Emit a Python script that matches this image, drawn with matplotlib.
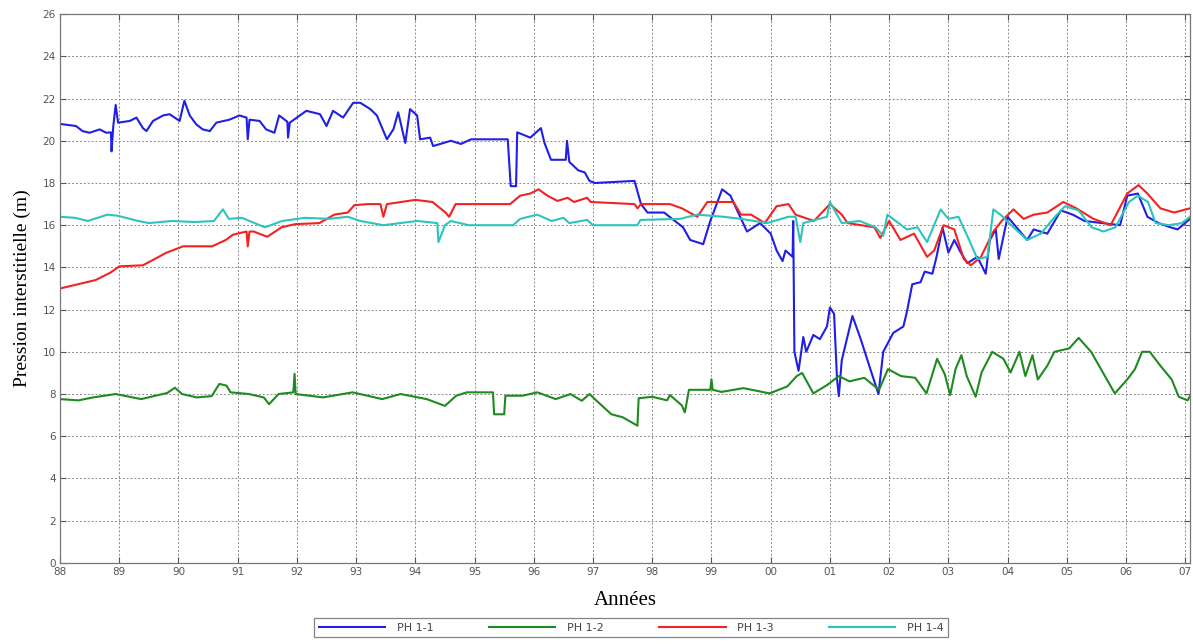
import matplotlib
matplotlib.use('Agg')
import matplotlib.pyplot as plt

# Piezometer readings, x in years since 1900 (88 = 1988, 107 = 2007)
ph11_t = [88.0, 88.27, 88.38, 88.5, 88.67, 88.78, 88.86, 88.87, 88.9, 88.94, 88.98, 89.18, 89.29, 89.4,
          89.46, 89.57, 89.74, 89.85, 90.02, 90.1, 90.19, 90.3, 90.41, 90.53, 90.64, 90.86, 91.03, 91.15,
          91.17, 91.2, 91.37, 91.48, 91.62, 91.7, 91.84, 91.85, 91.88, 92.05, 92.16, 92.39, 92.5, 92.61,
          92.78, 92.95, 93.07, 93.24, 93.35, 93.52, 93.63, 93.71, 93.83, 93.91, 94.03, 94.08, 94.25, 94.3,
          94.6, 94.77, 94.94, 95.56, 95.61, 95.7, 95.72, 95.94, 96.12, 96.18, 96.29, 96.54, 96.56, 96.6,
          96.75, 96.86, 96.94, 97.03, 97.7, 97.81, 97.92, 98.2, 98.52, 98.64, 98.86, 98.98, 99.18, 99.32,
          99.45, 99.6, 99.82, 100.0, 100.1, 100.2, 100.25, 100.37, 100.38, 100.4, 100.47, 100.55, 100.6,
          100.72, 100.83, 100.95, 101.0, 101.07, 101.12, 101.15, 101.2, 101.38, 101.52, 101.68, 101.82,
          101.9, 102.07, 102.24, 102.3, 102.39, 102.53, 102.6, 102.73, 102.8, 102.9, 103.0, 103.1, 103.2,
          103.32, 103.49, 103.63, 103.7, 103.8, 103.85, 104.0, 104.33, 104.44, 104.67, 104.9, 105.1, 105.3,
          105.9, 106.02, 106.2, 106.36, 106.55, 106.75, 106.87, 107.08]
ph11_v = [20.8, 20.7, 20.46, 20.38, 20.54, 20.38, 20.4, 19.5, 20.7, 21.7, 20.86, 20.94, 21.1, 20.6,
          20.46, 20.94, 21.2, 21.26, 20.94, 21.9, 21.2, 20.78, 20.54, 20.46, 20.86, 21.0, 21.2, 21.1,
          20.07, 21.0, 20.94, 20.54, 20.38, 21.2, 20.9, 20.15, 20.86, 21.2, 21.42, 21.26, 20.7, 21.42,
          21.1, 21.8, 21.8, 21.5, 21.2, 20.07, 20.55, 21.35, 19.9, 21.5, 21.2, 20.07, 20.15, 19.75,
          20.0, 19.85, 20.07, 20.07, 17.85, 17.85, 20.4, 20.15, 20.6, 19.9, 19.1, 19.1, 20.0, 19.0,
          18.6, 18.5, 18.1, 18.0, 18.1, 17.0, 16.6, 16.6, 15.9, 15.3, 15.1, 16.2, 17.7, 17.4,
          16.6, 15.7, 16.1, 15.6, 14.8, 14.3, 14.8, 14.5, 16.2, 10.0, 9.1, 10.7, 10.0,
          10.8, 10.6, 11.2, 12.1, 11.8, 8.7, 7.9, 9.6, 11.7, 10.6, 9.2, 8.0,
          10.0, 10.9, 11.2, 11.9, 13.2, 13.3, 13.8, 13.7, 14.5, 15.9, 14.7, 15.3, 14.75,
          14.2, 14.5, 13.7, 15.3, 15.8, 14.4, 16.4, 15.3, 15.8, 15.6, 16.7, 16.5, 16.2,
          16.0, 17.4, 17.5, 16.4, 16.1, 15.9, 15.8, 16.3]

ph12_t = [88.0, 88.31, 88.56, 88.94, 89.37, 89.81, 89.94, 90.06, 90.31, 90.56, 90.69, 90.81, 90.88,
          91.19, 91.44, 91.53, 91.69, 91.94, 91.96, 91.98, 92.44, 92.94, 93.44, 93.75, 94.19, 94.5,
          94.69, 94.87, 95.31, 95.33, 95.5, 95.52, 95.81, 96.06, 96.37, 96.62, 96.81, 96.94, 97.06,
          97.31, 97.5, 97.75, 97.77, 98.0, 98.25, 98.3, 98.5, 98.55, 98.62, 98.98, 99.0, 99.02, 99.17,
          99.54, 99.98, 100.28, 100.44, 100.53, 100.72, 100.96, 101.15, 101.33, 101.58, 101.83, 101.98,
          102.2, 102.44, 102.63, 102.81, 102.94, 103.03, 103.12, 103.22, 103.31, 103.46, 103.56, 103.74,
          103.93, 104.05, 104.2, 104.3, 104.42, 104.51, 104.67, 104.79, 105.04, 105.2, 105.41, 105.81,
          106.02, 106.15, 106.27, 106.4, 106.58, 106.77, 106.89, 107.04, 107.08]
ph12_v = [7.76, 7.7, 7.84, 8.0, 7.76, 8.05, 8.3, 8.0, 7.84, 7.9, 8.48, 8.4, 8.08,
          8.0, 7.84, 7.52, 8.0, 8.08, 8.96, 8.0, 7.84, 8.08, 7.76, 8.0, 7.76, 7.44,
          7.92, 8.08, 8.08, 7.04, 7.04, 7.92, 7.92, 8.08, 7.76, 8.0, 7.68, 8.0, 7.68,
          7.04, 6.9, 6.5, 7.8, 7.87, 7.7, 7.95, 7.46, 7.13, 8.2, 8.2, 8.7, 8.2, 8.1,
          8.28, 8.03, 8.36, 8.85, 9.0, 8.03, 8.44, 8.85, 8.6, 8.77, 8.2, 9.18,
          8.85, 8.77, 8.03, 9.67, 8.93, 7.95, 9.18, 9.84, 8.85, 7.87, 9.02, 10.0,
          9.67, 9.02, 10.0, 8.85, 9.84, 8.69, 9.34, 10.0, 10.16, 10.66, 10.0, 8.03,
          8.69, 9.18, 10.0, 10.0, 9.34, 8.69, 7.87, 7.7, 7.9]

ph13_t = [88.0, 88.3, 88.6, 88.85, 89.0, 89.4, 89.6, 89.8, 90.08, 90.57, 90.8, 90.92, 91.15, 91.17,
          91.2, 91.27, 91.5, 91.74, 91.97, 92.38, 92.63, 92.86, 92.97, 93.2, 93.41, 93.46, 93.52, 94.0,
          94.29, 94.51, 94.57, 94.68, 95.6, 95.77, 95.94, 96.08, 96.23, 96.4, 96.57, 96.68, 96.9, 96.96,
          97.7, 97.75, 97.81, 98.3, 98.5, 98.76, 98.93, 99.37, 99.5, 99.67, 99.9, 100.1, 100.3, 100.42,
          100.73, 101.0, 101.2, 101.3, 101.75, 101.85, 102.0, 102.19, 102.42, 102.64, 102.76, 102.92,
          103.1, 103.26, 103.38, 103.55, 103.76, 103.9, 104.1, 104.27, 104.44, 104.67, 104.94, 105.16,
          105.45, 105.74, 106.02, 106.21, 106.36, 106.58, 106.81, 107.08]
ph13_v = [13.0, 13.2, 13.4, 13.75, 14.05, 14.1, 14.4, 14.7, 15.0, 15.0, 15.3, 15.55, 15.7, 15.0,
          15.7, 15.7, 15.45, 15.9, 16.05, 16.1, 16.5, 16.6, 16.95, 17.0, 17.0, 16.4, 17.0, 17.2,
          17.1, 16.6, 16.4, 17.0, 17.0, 17.4, 17.5, 17.7, 17.4, 17.15, 17.3, 17.1, 17.3, 17.1,
          17.0, 16.8, 17.0, 17.0, 16.8, 16.4, 17.1, 17.1, 16.5, 16.5, 16.1, 16.9, 17.0, 16.5,
          16.2, 17.0, 16.5, 16.1, 15.9, 15.4, 16.2, 15.3, 15.6, 14.5, 14.8, 16.0,
          15.8, 14.4, 14.1, 14.5, 15.7, 16.2, 16.75, 16.3, 16.5, 16.6, 17.1, 16.8,
          16.3, 16.0, 17.5, 17.9, 17.5, 16.8, 16.6, 16.8]

ph14_t = [88.0, 88.25, 88.47, 88.8, 88.97, 89.32, 89.5, 89.89, 90.28, 90.6, 90.75, 90.85, 91.07, 91.46,
          91.75, 92.14, 92.54, 92.86, 93.07, 93.46, 94.03, 94.37, 94.39, 94.5, 94.6, 94.9, 95.65, 95.77,
          96.06, 96.3, 96.5, 96.6, 96.9, 97.0, 97.75, 97.8, 98.47, 98.76, 99.2, 99.5, 99.94, 100.3,
          100.42, 100.5, 100.55, 100.95, 101.0, 101.2, 101.5, 101.77, 101.9, 101.97, 102.3, 102.48,
          102.64, 102.87, 103.0, 103.17, 103.35, 103.49, 103.66, 103.76, 103.9, 104.1, 104.33, 104.56,
          104.8, 104.97, 105.2, 105.42, 105.62, 105.82, 106.05, 106.2, 106.37, 106.5, 106.72, 106.94,
          107.08]
ph14_v = [16.4, 16.35, 16.2, 16.5, 16.45, 16.2, 16.1, 16.2, 16.15, 16.2, 16.75, 16.3, 16.35, 15.9,
          16.2, 16.35, 16.3, 16.4, 16.2, 16.0, 16.2, 16.1, 15.2, 16.0, 16.2, 16.0, 16.0, 16.3,
          16.5, 16.2, 16.35, 16.1, 16.25, 16.0, 16.0, 16.25, 16.3, 16.5, 16.4, 16.3, 16.1, 16.4,
          16.4, 15.2, 16.1, 16.4, 17.1, 16.1, 16.2, 15.9, 15.5, 16.5, 15.8, 15.9,
          15.2, 16.75, 16.3, 16.4, 15.3, 14.4, 14.5, 16.75, 16.45, 15.9, 15.3, 15.6,
          16.4, 16.9, 16.7, 15.9, 15.7, 15.9, 17.1, 17.4, 17.1, 16.1, 16.0, 16.1,
          16.4]

labels = ['PH 1-1', 'PH 1-2', 'PH 1-3', 'PH 1-4']
colors = ['#1f1fe6', '#1f8a1f', '#f22222', '#2cc4bc']
year_ticks = list(range(88, 108))
y_ticks = list(range(0, 27, 2))

fig = plt.figure(figsize=(11.93, 6.44), dpi=100)
ax = fig.add_axes([0.0503, 0.126, 0.9472, 0.852])

series = [(ph11_t, ph11_v), (ph12_t, ph12_v), (ph13_t, ph13_v), (ph14_t, ph14_v)]
for (t, v), lab, col in zip(series, labels, colors):
    ax.plot(t, v, color=col, lw=1.5, label=lab)

ax.set_xlim(88, 107.08)
ax.set_ylim(0, 26)
ax.set_xticks(year_ticks)
ax.set_xticklabels(['%02d' % (y % 100) for y in year_ticks])
ax.set_yticks(y_ticks)
ax.tick_params(direction='in', top=True, right=True, length=4, width=0.8,
               labelsize=7.5, labelcolor='#555555', color='#555555', pad=3)
ax.grid(True, color='#8a8a8a', linestyle=(0, (2, 2)), linewidth=0.7)
for s in ax.spines.values():
    s.set_color('#777777')
    s.set_linewidth(0.9)

ax.set_xlabel('Années', family='Liberation Serif', fontsize=15, labelpad=10)
ax.set_ylabel('Pression interstitielle (m)', family='Liberation Serif', fontsize=14, labelpad=8)

leg = fig.legend(loc='center', bbox_to_anchor=(0.529, 0.025), ncol=4, fontsize=8,
                 handlelength=6, handletextpad=1.0, columnspacing=5.0, frameon=True,
                 fancybox=False, borderpad=0.4)
leg.get_frame().set_edgecolor('#666666')
leg.get_frame().set_linewidth(0.9)
for txt in leg.get_texts():
    txt.set_color('#444444')

fig.savefig('out.png', dpi=100)
